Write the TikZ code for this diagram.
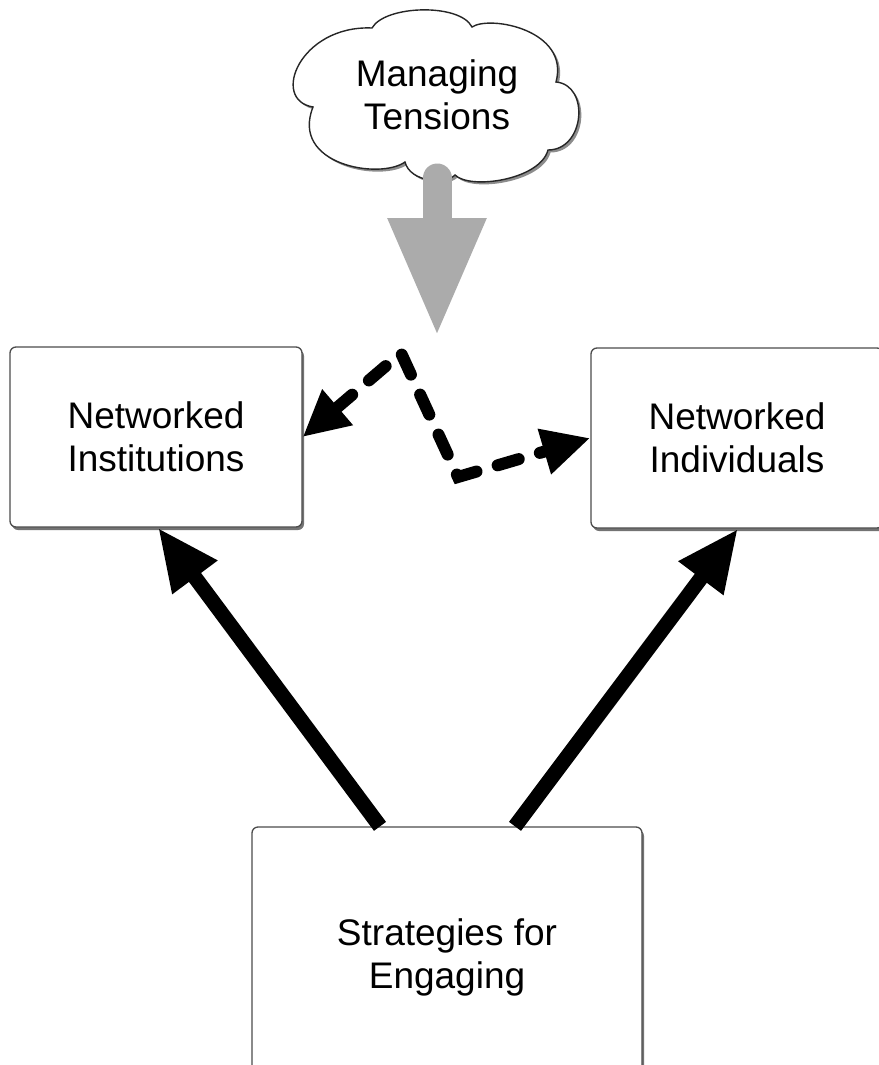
\documentclass[tikz,border=0pt]{standalone}
\usepackage{fontspec}
\setmainfont{Liberation Sans}
\usetikzlibrary{arrows.meta,shadows}
\tikzset{
  txt/.style={font=\fontsize{37}{43}\selectfont, align=center},
  boxnode/.style={txt, draw=black!70, line width=1.3pt, fill=white, rounded corners=6pt,
    drop shadow={shadow xshift=2pt, shadow yshift=-3pt, fill=black!55, opacity=1}},
  thick arrow/.style={line width=15pt, -{Triangle[length=62pt,width=52pt]}},
  dash arrow/.style={line width=12pt, line cap=round, dash pattern=on 22pt off 22pt,
    {Triangle[length=46pt,width=44pt]}-{Triangle[length=48pt,width=44pt]}},
  gray arrow/.style={line width=29pt, color=black!33, line cap=round, -{Triangle[length=120pt,width=90pt]}},
  cloudline/.style={draw=black!85, line width=1.4pt, fill=white}
}
\begin{document}
\begin{tikzpicture}[x=1pt,y=-1pt]
\useasboundingbox (0,0) rectangle (878,1065);
% boxes
\node[boxnode, minimum width=292pt, minimum height=180pt] (inst) at (156,437) {Networked\\Institutions};
\node[boxnode, minimum width=292pt, minimum height=180pt] (indiv) at (737,438) {Networked\\Individuals};
\node[boxnode, minimum width=390pt, minimum height=260pt] (strat) at (447,957) {Strategies for\\Engaging};
% cloud
\def\cloudpath{(372,28) .. controls (385,5) and (460,3) .. (472,27)
  .. controls (490,15) and (570,30) .. (556,82)
  .. controls (590,85) and (585,150) .. (548,150)
  .. controls (540,180) and (470,190) .. (455,175)
  .. controls (445,185) and (410,182) .. (405,162)
  .. controls (380,180) and (290,165) .. (313,107)
  .. controls (270,100) and (300,25) .. (372,28) -- cycle}
\begin{scope}[shift={(2.5,2.5)}]
\fill[black!45] \cloudpath;
\end{scope}
\path[cloudline] \cloudpath;
\node[txt] (cloud) at (437,95) {Managing\\Tensions};
\coordinate (gtip) at (437,338);
\draw[gray arrow] (437,178) -- (gtip);
% dashed connector
\coordinate (c1) at (401,353);
\coordinate (c2) at (458,477);
\draw[dash arrow] (inst.east) -- (c1) -- (c2) -- (indiv.west);
% solid arrows
\draw[thick arrow] ([xshift=-67pt]strat.north) -- ([xshift=2pt]inst.south);
\draw[thick arrow] ([xshift=68pt]strat.north) -- ([xshift=1pt]indiv.south);
\end{tikzpicture}
\end{document}
